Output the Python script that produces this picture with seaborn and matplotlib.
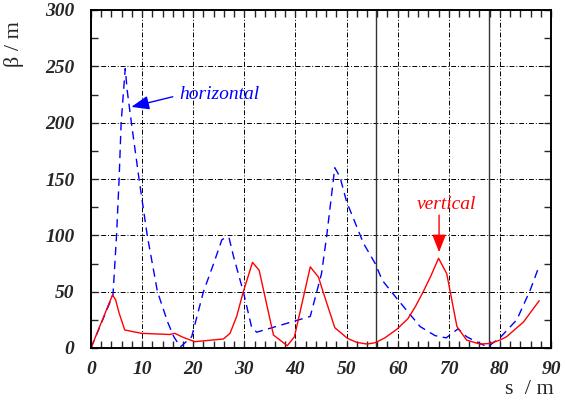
import numpy as np
import pandas as pd
import seaborn as sns
import matplotlib.pyplot as plt
from matplotlib.ticker import MultipleLocator

# horizontal beta function (blue dashed)
hor_s = [0, 4.3, 5.0, 5.5, 5.9, 6.7, 7.1, 7.9, 9.4, 11.0, 13.0, 15.0, 16.2, 17.5,
         19.7, 22.0, 24.0, 25.6, 26.3, 27.0, 27.9, 29.8, 31.4, 32.4, 42.9, 45.1,
         46.1, 47.7, 48.7, 50.0, 53.3, 55.6, 57.0, 60.0, 64.4, 67.3, 69.5, 71.8,
         73.5, 76.1, 77.6, 80.0, 83.3, 85.9, 87.7]
hor_beta = [0, 47, 100, 150, 200, 248, 228, 200, 150, 100, 50, 23, 10, 1,
            10, 50, 75, 96, 98, 98, 81, 50, 19, 14, 28, 66,
            99, 160, 152, 130, 93, 75, 60, 43, 19, 11, 9, 17,
            10, 4, 1, 9, 25, 51, 73]

# vertical beta function (red solid)
ver_s = [0, 4.2, 4.8, 5.5, 6.6, 9.9, 15.4, 16.4, 18.0, 20.3, 25.9, 27.2, 28.5,
         29.8, 31.6, 32.9, 35.7, 38.4, 39.8, 42.9, 44.5, 45.4, 47.7, 50.2, 52.0,
         54.0, 55.6, 57.5, 59.8, 62.0, 63.5, 65.0, 66.5, 68.0, 69.6, 71.6, 73.5,
         76.1, 78.0, 80.0, 81.3, 84.6, 87.7]
ver_beta = [0, 47, 43, 31, 16, 13, 12, 13, 9.5, 5.6, 8, 13, 28,
            50, 76, 69, 11.5, 2, 10, 72, 63, 50, 18, 8.5, 5,
            3.5, 4.7, 9, 16.5, 26, 37, 50, 64, 79.6, 66, 19, 7,
            3.5, 4, 7, 10, 23, 42]

# solid vertical markers
marker_s = [55.8, 77.8]

hor = pd.DataFrame({"s": hor_s, "beta": hor_beta})
ver = pd.DataFrame({"s": ver_s, "beta": ver_beta})

sns.set_style("ticks")
plt.rcParams['font.family'] = ['Liberation Serif', 'DejaVu Serif']

fig = plt.figure(figsize=(5.65, 4.03), dpi=100)
ax = fig.add_axes([91 / 565, 1 - 348 / 403, 460 / 565, 338 / 403])

sns.lineplot(data=hor, x="s", y="beta", sort=False, estimator=None, ax=ax,
             color="blue", lw=1.0, linestyle=(0, (6, 4)))
sns.lineplot(data=ver, x="s", y="beta", sort=False, estimator=None, ax=ax,
             color="red", lw=1.0)

for s in marker_s:
    ax.axvline(s, color="#333333", lw=1.0, zorder=1)

ax.set_xlim(0, 90)
ax.set_ylim(0, 300)
ax.xaxis.set_major_locator(MultipleLocator(10))
ax.xaxis.set_minor_locator(MultipleLocator(2))
ax.yaxis.set_major_locator(MultipleLocator(50))
ax.yaxis.set_minor_locator(MultipleLocator(25))

ax.grid(True, which="major", color="black", lw=0.7, linestyle=(0, (5, 2, 1, 2)))
ax.set_axisbelow(True)

ax.tick_params(which="both", direction="in", top=True, right=True,
               length=5, width=1.0)
ax.tick_params(axis="x", which="major", pad=9)
ax.tick_params(axis="y", which="major", pad=12)
for lab in ax.get_xticklabels() + ax.get_yticklabels():
    lab.set_fontsize(14)
    lab.set_fontweight("bold")
    lab.set_fontstyle("italic")

for sp in ax.spines.values():
    sp.set_linewidth(1.4)
    sp.set_color("black")

ax.set_xlabel("s  / m", fontsize=16)
ax.set_ylabel("β / m", fontsize=16)
ax.xaxis.set_label_coords(0.952, -0.095)
ax.yaxis.set_label_coords(-0.145, 0.9)

ax.text(17.3, 225, "horizontal", color="blue", fontsize=14, style="italic",
        ha="left", va="center")
ax.annotate("", xy=(7.9, 214), xytext=(16.0, 223),
            arrowprops=dict(arrowstyle="-|>,head_length=0.9,head_width=0.35",
                            color="blue", lw=1.0, shrinkA=0, shrinkB=0,
                            mutation_scale=12))
ax.text(69.5, 127, "vertical", color="red", fontsize=14, style="italic",
        ha="center", va="center")
ax.annotate("", xy=(68.1, 85), xytext=(68.1, 118),
            arrowprops=dict(arrowstyle="-|>,head_length=0.9,head_width=0.35",
                            color="red", lw=1.0, shrinkA=0, shrinkB=0,
                            mutation_scale=12))

fig.savefig("out.png", dpi=100)
